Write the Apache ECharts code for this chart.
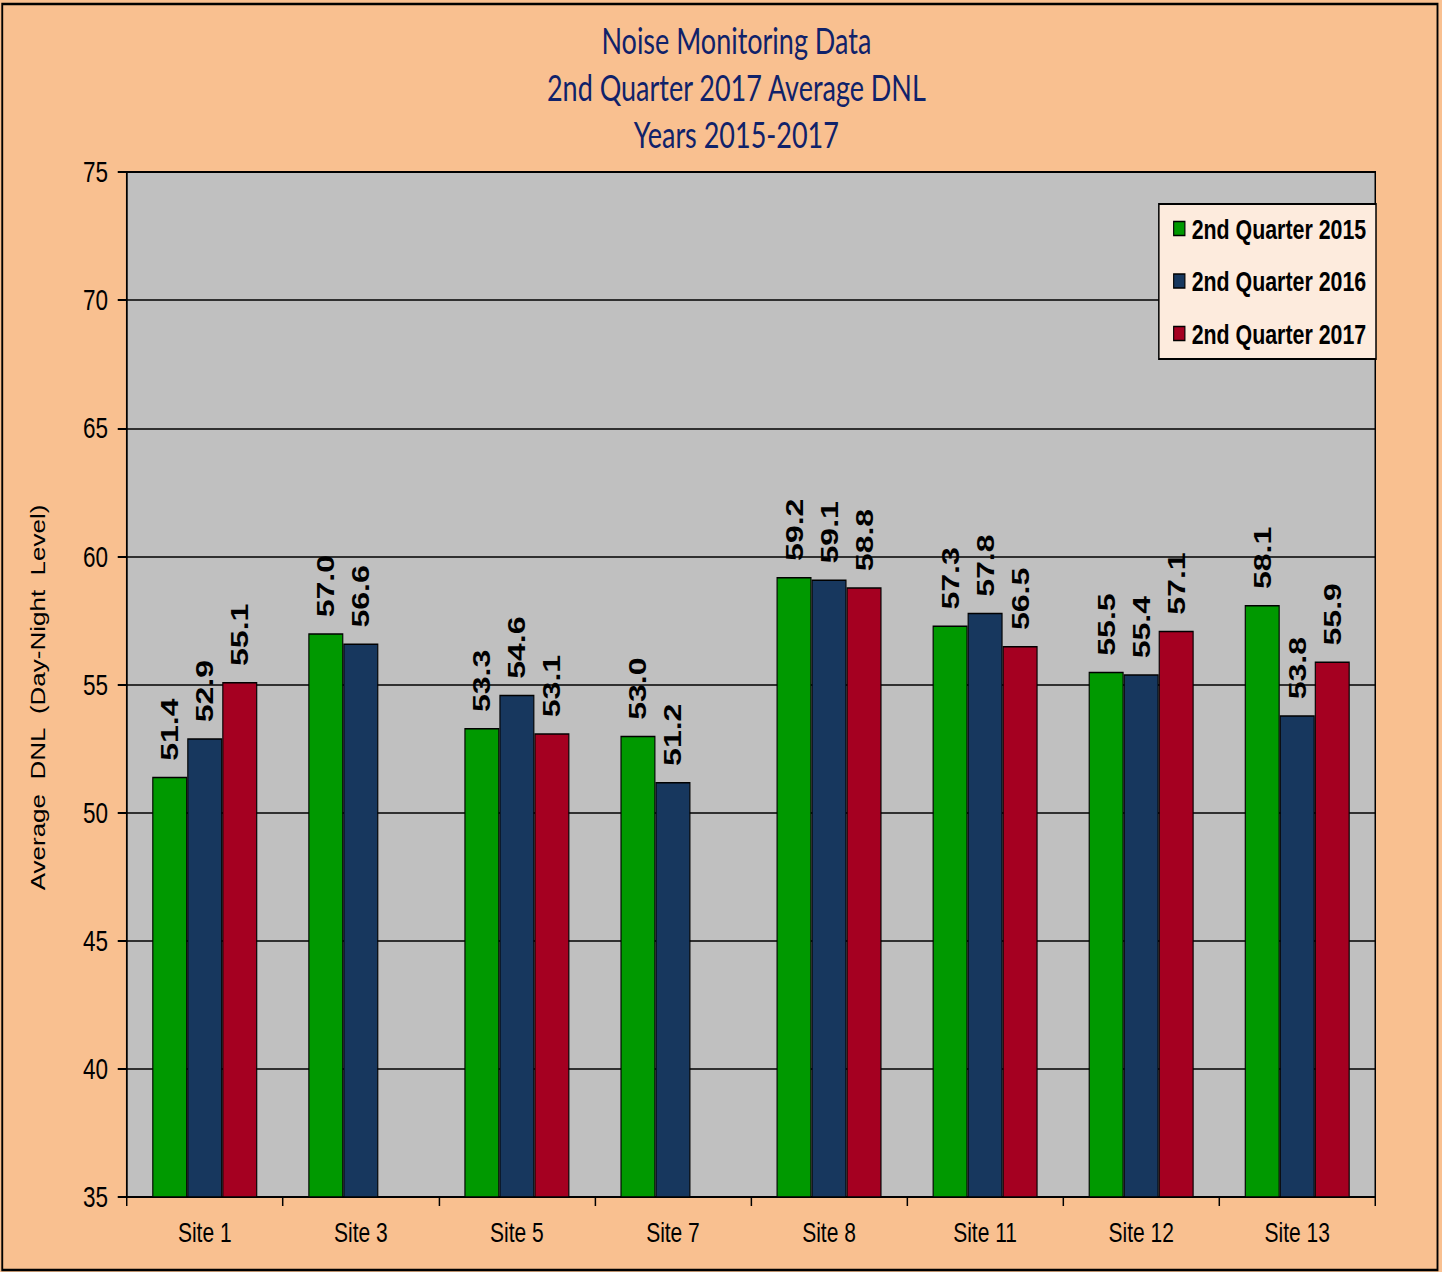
<!DOCTYPE html>
<html>
<head>
<meta charset="utf-8">
<script src="https://cdn.jsdelivr.net/npm/echarts@6/dist/echarts.min.js"></script>
<style>
  html, body { margin: 0; padding: 0; background: #f9c090; overflow: hidden; }
  #wrap { width: 1442px; height: 1272px; overflow: hidden; }
  /* the original picture is squeezed sideways, so draw wide and squeeze */
  #chart { width: 1923px; height: 1272px; transform: scaleX(0.74987); transform-origin: 0 0; }
</style>
</head>
<body>
<div id="wrap"><div id="chart"></div></div>
<script>
// sites along the x axis
const sites = ['Site 1', 'Site 3', 'Site 5', 'Site 7', 'Site 8', 'Site 11', 'Site 12', 'Site 13']
// average DNL per quarter (null = no bar)
const q2015 = [51.4, 57.0, 53.3, 53.0, 59.2, 57.3, 55.5, 58.1]
const q2016 = [52.9, 56.6, 54.6, 51.2, 59.1, 57.8, 55.4, 53.8]
const q2017 = [55.1, null, 53.1, null, 58.8, 56.5, 57.1, 55.9]
const seriesNames = ['2nd Quarter 2015', '2nd Quarter 2016', '2nd Quarter 2017']
const seriesColors = ['#009900', '#17375e', '#a50021']

const arial = '"Liberation Sans", Arial, sans-serif'

const chart = echarts.init(document.getElementById('chart'), null, {renderer: 'svg'})

const makeSeries = (name, data, color) => ({
  name: name,
  type: 'bar',
  data: data,
  barGap: '0%',
  barCategoryGap: '32.7%',
  itemStyle: {
    color: color,
    borderColor: '#000',
    borderWidth: 1.5,
  },
  label: {
    show: true,
    position: 'top',
    rotate: 90,
    align: 'left',
    verticalAlign: 'middle',
    distance: 16,
    formatter: p => (p.value == null ? '' : p.value.toFixed(1)),
    color: '#000',
    fontFamily: arial,
    fontWeight: 'bold',
    fontSize: 32,
  },
})

chart.setOption({
  backgroundColor: '#f9c090',
  animation: false,
  title: {
    text: 'Noise Monitoring Data\n2nd Quarter 2017 Average DNL\nYears 2015-2017',
    left: 977,
    textAlign: 'center',
    top: 12,
    textStyle: {
      color: '#10226a',
      fontFamily: 'Lato, "Open Sans", sans-serif',
      fontWeight: 'normal',
      fontSize: 36,
      lineHeight: 47,
    },
  },
  legend: {
    orient: 'vertical',
    right: 88,
    top: 204,
    icon: 'rect',
    itemWidth: 15,
    itemHeight: 14,
    itemGap: 23.5,
    padding: [10, 13, 11, 19],
    backgroundColor: '#fdebdd',
    borderColor: '#000',
    borderWidth: 2,
    itemStyle: { borderColor: '#000', borderWidth: 1.5 },
    textStyle: {
      color: '#000',
      fontFamily: arial,
      fontWeight: 'bold',
      fontSize: 28.5,
      padding: [0, 0, 0, 4],
    },
    data: seriesNames,
  },
  grid: {
    left: 169,
    right: 89,
    top: 172,
    bottom: 75,
    show: true,
    backgroundColor: '#c0c0c0',
    borderColor: '#000',
    borderWidth: 2,
  },
  xAxis: {
    type: 'category',
    data: sites,
    axisLine: { lineStyle: { color: '#000', width: 2 } },
    axisTick: { show: true, length: 9, lineStyle: { color: '#000', width: 2 } },
    axisLabel: {
      color: '#000',
      fontFamily: arial,
      fontSize: 28,
      margin: 21,
    },
  },
  yAxis: {
    type: 'value',
    min: 35,
    max: 75,
    interval: 5,
    name: 'Average  DNL  (Day-Night  Level)',
    nameLocation: 'middle',
    nameGap: 105,
    nameTextStyle: {
      color: '#000',
      fontFamily: arial,
      fontSize: 26,
      padding: [0, 26, 0, 0],
    },
    axisLine: { show: true, lineStyle: { color: '#000', width: 2 } },
    axisTick: { show: true, length: 12, lineStyle: { color: '#000', width: 2 } },
    axisLabel: {
      color: '#000',
      fontFamily: arial,
      fontSize: 30,
      margin: 25,
    },
    splitLine: { lineStyle: { color: '#000', width: 1.5 } },
  },
  series: [
    makeSeries(seriesNames[0], q2015, seriesColors[0]),
    makeSeries(seriesNames[1], q2016, seriesColors[1]),
    makeSeries(seriesNames[2], q2017, seriesColors[2]),
  ],
  graphic: [
    {
      type: 'rect',
      shape: { x: 3, y: 4, width: 1914, height: 1266 },
      style: { fill: 'none', stroke: '#000', lineWidth: 2.5 },
      silent: true,
    },
  ],
})
</script>
</body>
</html>
